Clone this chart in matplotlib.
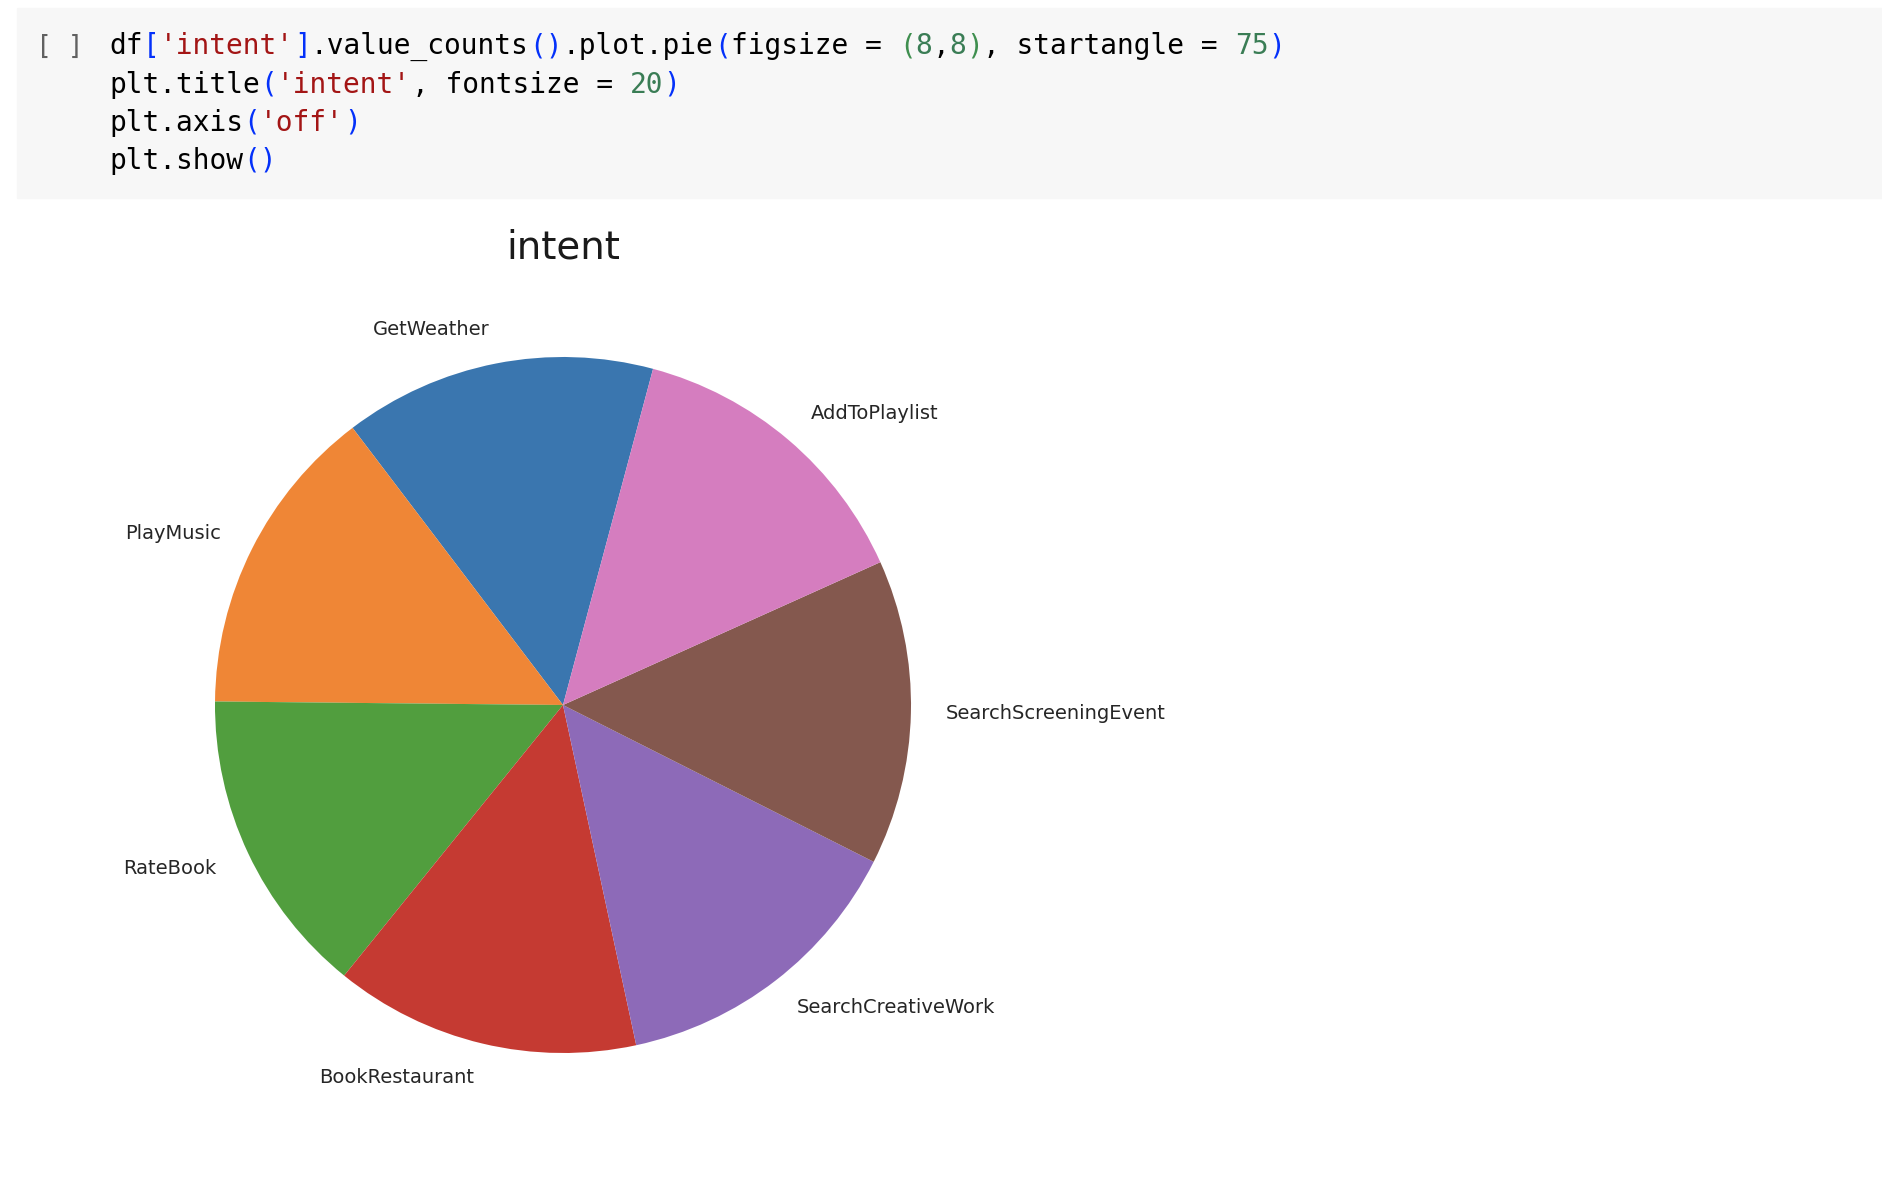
import matplotlib.pyplot as plt
from matplotlib.patches import Rectangle

# value_counts of the 'intent' column
intents = ['GetWeather', 'PlayMusic', 'RateBook', 'BookRestaurant',
           'SearchCreativeWork', 'SearchScreeningEvent', 'AddToPlaylist']
counts = [2100, 2100, 2076, 2056, 2054, 2052, 2042]
wedge_colors = ['#3a76af', '#ef8636', '#519e3e', '#c53a32',
                '#8d6ab8', '#84584e', '#d57dbf']

# notebook cell text, as (token, colour) runs per line
BLK, STR, NUM, BR1, BR2 = '#000000', '#a31515', '#3a7d55', '#0431fa', '#3f8f4f'
code_lines = [
    [("df", BLK), ("[", BR1), ("'intent'", STR), ("]", BR1), (".value_counts", BLK),
     ("()", BR1), (".plot.pie", BLK), ("(", BR1), ("figsize = ", BLK), ("(", BR2),
     ("8", NUM), (",", BLK), ("8", NUM), (")", BR2), (", startangle = ", BLK),
     ("75", NUM), (")", BR1)],
    [("plt.title", BLK), ("(", BR1), ("'intent'", STR), (", fontsize = ", BLK),
     ("20", NUM), (")", BR1)],
    [("plt.axis", BLK), ("(", BR1), ("'off'", STR), (")", BR1)],
    [("plt.show", BLK), ("()", BR1)],
]

W, H = 1883, 1190
fig = plt.figure(figsize=(W / 100, H / 100), dpi=100)

# full-figure axes in pixel units for the code cell
bg = fig.add_axes([0, 0, 1, 1])
bg.set_xlim(0, W)
bg.set_ylim(H, 0)
bg.axis('off')
bg.add_patch(Rectangle((17, 8), W - 17, 190, color='#f7f7f7', zorder=0))
bg.text(36, 54, '[ ]', family='DejaVu Sans Mono', fontsize=19,
        color='#616161', va='baseline', ha='left')

code_fs = 20.1
cw = 0.602 * code_fs * 100 / 72
x0 = 109
baselines = [54, 93, 131, 169]
for line, yb in zip(code_lines, baselines):
    col = 0
    for tok, c in line:
        bg.text(x0 + col * cw, yb, tok, family='DejaVu Sans Mono', fontsize=code_fs,
                color=c, va='baseline', ha='left')
        col += len(tok)

# the pie itself
ax = fig.add_axes([128 / W, 50 / H, 870 / W, 870 / H])
ax.pie(counts, labels=intents, colors=wedge_colors, startangle=75,
       textprops={'fontsize': 14, 'color': '#262626'})
ax.set_title('intent', fontsize=27.9, pad=8.4, color='#1a1a1a')
ax.set_xlim(-1.25, 1.25)
ax.set_ylim(-1.25, 1.25)
ax.axis('off')

fig.savefig('out.png', dpi=100)
